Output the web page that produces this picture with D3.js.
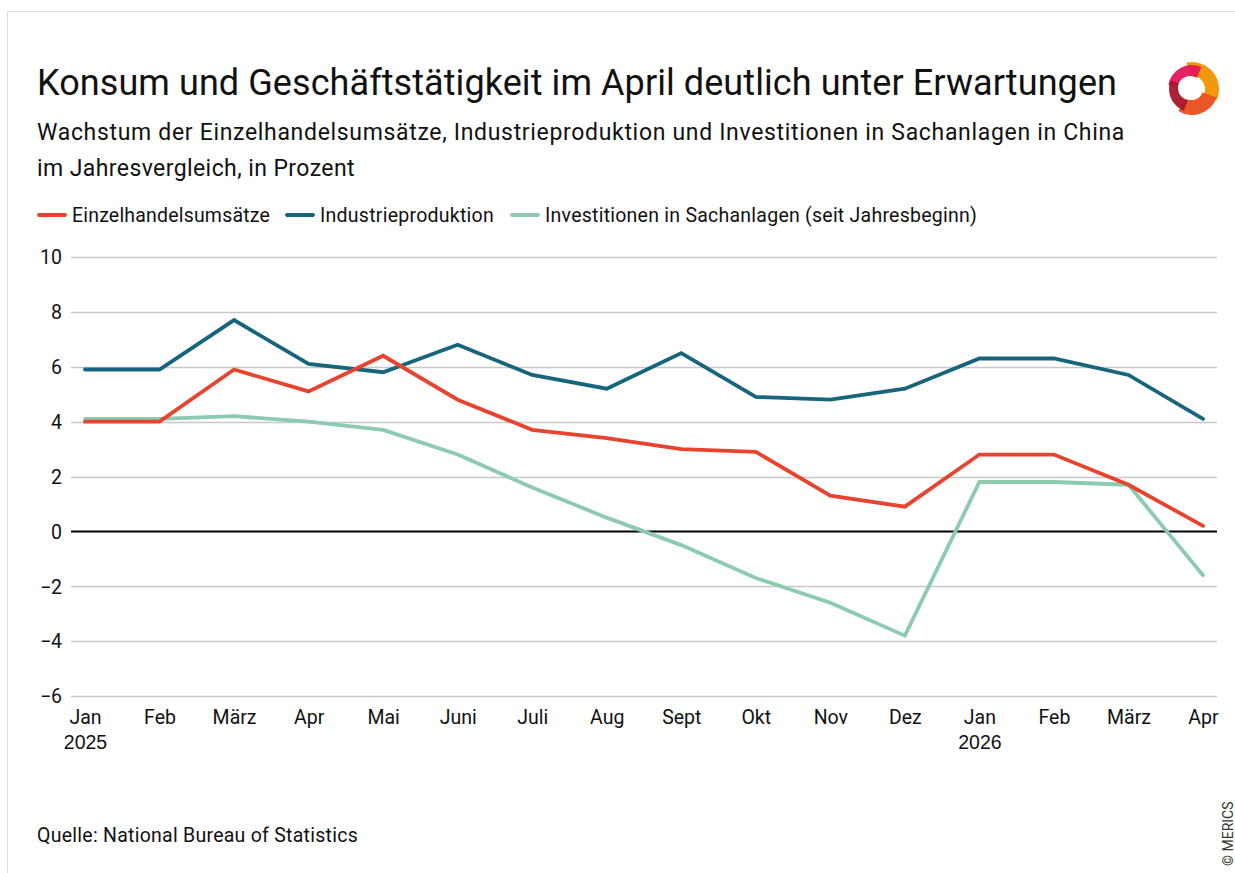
<!DOCTYPE html>
<html>
<head>
<meta charset="utf-8">
<script src="https://cdn.jsdelivr.net/npm/d3@7"></script>
<style>
  body { margin: 0; background: #fff; }
  svg { display: block; font-family: Roboto, "Open Sans", sans-serif; }
</style>
</head>
<body>
<div id="chart"></div>
<script>
const months = ["Jan", "Feb", "März", "Apr", "Mai", "Juni", "Juli", "Aug", "Sept", "Okt", "Nov", "Dez", "Jan", "Feb", "März", "Apr"];
const yearLabels = { 0: "2025", 12: "2026" };

const retailSales = [4.0, 4.0, 5.9, 5.1, 6.4, 4.8, 3.7, 3.4, 3.0, 2.9, 1.3, 0.9, 2.8, 2.8, 1.7, 0.2];
const industrialProd = [5.9, 5.9, 7.7, 6.1, 5.8, 6.8, 5.7, 5.2, 6.5, 4.9, 4.8, 5.2, 6.3, 6.3, 5.7, 4.1];
const fixedInvest = [4.1, 4.1, 4.2, 4.0, 3.7, 2.8, 1.6, 0.5, -0.5, -1.7, -2.6, -3.8, 1.8, 1.8, 1.7, -1.6];

const yTicks = [10, 8, 6, 4, 2, 0, -2, -4, -6];

const series = [
    { name: "Einzelhandelsumsätze", values: retailSales, color: "#e8432e" },
    { name: "Industrieproduktion", values: industrialProd, color: "#17657c" },
    { name: "Investitionen in Sachanlagen (seit Jahresbeginn)", values: fixedInvest, color: "#8ccbb0" }
];

const width = 1235, height = 873;
const svg = d3.select("#chart").append("svg")
    .attr("width", width)
    .attr("height", height);

// stretch text to the width it has in the original layout
function fit(sel, target) {
    const node = sel.node();
    const n = sel.text().length;
    const len = node.getComputedTextLength();
    sel.style("letter-spacing", ((target - len) / n) + "px");
    return sel;
}

// frame lines (top and left)
svg.append("line").attr("x1", 7.5).attr("x2", width).attr("y1", 11.5).attr("y2", 11.5)
    .attr("stroke", "#dcdcdc").attr("stroke-width", 1);
svg.append("line").attr("x1", 7.5).attr("x2", 7.5).attr("y1", 11.5).attr("y2", height)
    .attr("stroke", "#dcdcdc").attr("stroke-width", 1);

// titles
fit(svg.append("text").attr("x", 37).attr("y", 95)
    .style("font-size", "36px").attr("fill", "#111")
    .text("Konsum und Geschäftstätigkeit im April deutlich unter Erwartungen"), 1080);
fit(svg.append("text").attr("x", 37).attr("y", 140)
    .style("font-size", "23px").attr("fill", "#111")
    .text("Wachstum der Einzelhandelsumsätze, Industrieproduktion und Investitionen in Sachanlagen in China"), 1088);
fit(svg.append("text").attr("x", 37).attr("y", 176)
    .style("font-size", "23px").attr("fill", "#111")
    .text("im Jahresvergleich, in Prozent"), 318);

// legend
const legendX = [0, 248, 473];
const legendW = [198, 174, 432];
const legend = svg.append("g").attr("transform", "translate(37,222)");
series.forEach((s, i) => {
    const lx = legendX[i];
    legend.append("line")
        .attr("x1", lx + 2).attr("x2", lx + 28).attr("y1", -7).attr("y2", -7)
        .attr("stroke", s.color).attr("stroke-width", 4).attr("stroke-linecap", "round");
    fit(legend.append("text").attr("x", lx + 35).attr("y", 0)
        .style("font-size", "19.5px").attr("fill", "#111").text(s.name), legendW[i]);
});

// scales
const x = d3.scalePoint().domain(d3.range(months.length)).range([85, 1203]);
const y = d3.scaleLinear().domain([-6, 10]).range([696, 257]);

// gridlines
svg.append("g").selectAll("line")
    .data(yTicks.filter(d => d !== 0))
    .join("line")
    .attr("x1", 71).attr("x2", 1217)
    .attr("y1", d => Math.round(y(d)) + 0.5).attr("y2", d => Math.round(y(d)) + 0.5)
    .attr("stroke", "#c8c8c8").attr("stroke-width", 1.3);

// y axis labels
const yAxis = d3.axisLeft(y).tickValues(yTicks).tickSize(0).tickPadding(0)
    .tickFormat(d => d < 0 ? "\u2212" + Math.abs(d) : d);
const yg = svg.append("g").attr("transform", "translate(62,0)").call(yAxis);
yg.select(".domain").remove();
yg.selectAll("text").style("font-size", "19.5px").attr("fill", "#111")
    .attr("font-family", "Roboto, sans-serif").attr("dy", "0.35em");

// x axis labels
const xAxis = d3.axisBottom(x).tickSize(0).tickPadding(0).tickFormat(i => months[i]);
const xg = svg.append("g").attr("transform", "translate(0,707)").call(xAxis);
xg.select(".domain").remove();
xg.selectAll("text").style("font-size", "19.5px").attr("fill", "#111")
    .attr("font-family", "Roboto, sans-serif").attr("dy", "0.85em");
xg.selectAll(".tick").filter(i => yearLabels[i])
    .append("text")
    .attr("y", 0).attr("dy", "2.15em")
    .attr("fill", "#111").attr("text-anchor", "middle")
    .style("font-size", "19.5px")
    .text(i => yearLabels[i]);

// zero line
svg.append("line").attr("x1", 71).attr("x2", 1217)
    .attr("y1", y(0)).attr("y2", y(0))
    .attr("stroke", "#000").attr("stroke-width", 2);

// lines
const line = d3.line().x((d, i) => x(i)).y(d => y(d));
svg.append("g").selectAll("path")
    .data(series.slice().reverse())
    .join("path")
    .attr("d", d => line(d.values))
    .attr("fill", "none")
    .attr("stroke", d => d.color)
    .attr("stroke-width", 3.8)
    .attr("stroke-linejoin", "miter")
    .attr("stroke-linecap", "round");

// source
fit(svg.append("text").attr("x", 37).attr("y", 842)
    .style("font-size", "19.5px").attr("fill", "#111")
    .text("Quelle: National Bureau of Statistics"), 321);

// copyright
svg.append("text").attr("transform", "translate(1233,866) rotate(-90)")
    .style("font-size", "14px").attr("fill", "#333")
    .text("© MERICS");

// logo
const logo = svg.append("g").attr("transform", "translate(1192,89)");
const arc = d3.arc();
const logoParts = [
    { start: -0.2, end: 2.0, color: "#f29100", r0: 13, r1: 27 },
    { start: -1.4, end: 0.4, color: "#e5175a", r0: 12, r1: 24 },
    { start: 1.9, end: 3.7, color: "#e94e1b", r0: 11, r1: 26 },
    { start: 3.5, end: 5.1, color: "#a5172a", r0: 11, r1: 23 }
];
logo.selectAll("path").data(logoParts).join("path")
    .attr("d", d => arc({ innerRadius: d.r0, outerRadius: d.r1, startAngle: d.start, endAngle: d.end }))
    .attr("fill", d => d.color)
    .attr("opacity", 0.95);
logo.append("circle").attr("cx", -2).attr("cy", -1).attr("r", 12).attr("fill", "#fff");
</script>
</body>
</html>
